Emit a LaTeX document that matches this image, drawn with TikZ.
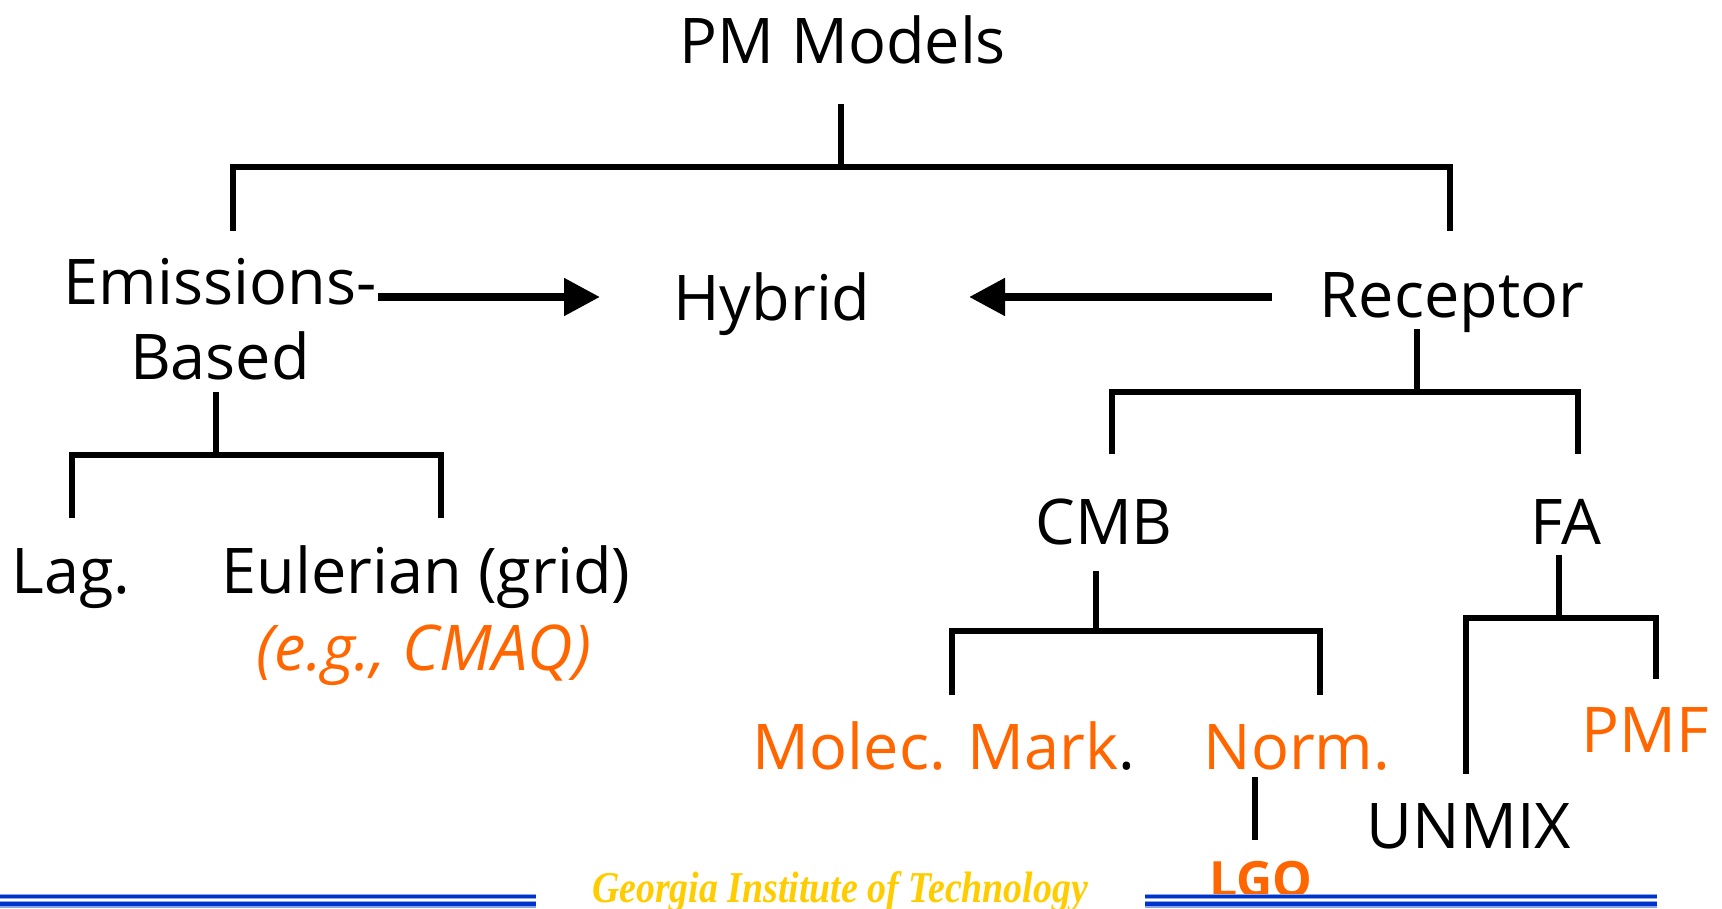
\documentclass[tikz,border=0pt]{standalone}
\usepackage{fontspec}
\setmainfont{Open Sans}
\newfontfamily\gtfont{Liberation Serif}
\usetikzlibrary{arrows.meta}
\definecolor{orng}{RGB}{255,102,0}
\definecolor{gold}{RGB}{255,204,0}
\definecolor{gtblue}{RGB}{0,51,204}
\definecolor{gtlight}{RGB}{140,165,230}
\tikzset{
  lbl/.style={anchor=base, inner sep=0pt, font=\fontsize{63}{75}\selectfont},
  olbl/.style={lbl, text=orng},
  tree/.style={line width=6pt, line join=miter, line cap=butt},
  arr/.style={line width=8pt, -{Triangle[length=36pt,width=36pt]}},
}
\begin{document}
\begin{tikzpicture}[x=1pt,y=-1pt]
\useasboundingbox (0,0) rectangle (1722,909);
% labels
\node[lbl] (pm) at (843,64) {PM Models};
\node[lbl] (emis1) at (220,305) {Emissions-};
\node[lbl] (emis2) at (220,379) {Based};
\node[lbl] (hyb) at (772,321) {Hybrid};
\node[lbl] (rec) at (1452,318) {Receptor};
\node[lbl] (lag) at (71,593) {Lag.};
\node[lbl] (eul) at (426,593) {Eulerian (grid)};
\node[olbl, font=\fontsize{63}{75}\selectfont\itshape] (eg) at (424,670) {(e.g., CMAQ)};
\node[lbl] (cmb) at (1104,544) {CMB};
\node[lbl] (fa) at (1566,544) {FA};
\node[olbl] (mol) at (944,769) {Molec. Mark\textcolor{black}{.}};
\node[olbl] (norm) at (1297,769) {Norm.};
\node[olbl] (pmf) at (1645,752) {PMF};
\node[lbl] (unmix) at (1469,848) {UNMIX};
\node[olbl, font=\fontsize{50}{54}\selectfont\bfseries] (lgo) at (1261,897) {LGO};
% tree junctions
\coordinate (pmJ) at (841,104);
\coordinate (emJ) at (216,392);
\coordinate (recJ) at (1417,329);
\coordinate (cmbJ) at (1096,571);
\coordinate (faJ) at (1559,555);
\coordinate (normJ) at (1255,777);
\coordinate (lgoJ) at (1255,840);
% top bracket
\draw[tree] (pmJ) -- (841,167);
\draw[tree] (233,231) -- (233,167) -- (1450,167) -- (1450,231);
% emissions bracket
\draw[tree] (emJ) -- (216,455);
\draw[tree] (72,518) -- (72,455) -- (441,455) -- (441,518);
% receptor bracket
\draw[tree] (recJ) -- (1417,392);
\draw[tree] (1112,454) -- (1112,392) -- (1578,392) -- (1578,454);
% CMB bracket
\draw[tree] (cmbJ) -- (1096,631);
\draw[tree] (952,695) -- (952,631) -- (1320,631) -- (1320,695);
% Norm -> LGO
\draw[tree] (normJ) -- (lgoJ);
% FA bracket
\draw[tree] (faJ) -- (1559,618);
\draw[tree] (1466,774) -- (1466,618) -- (1656,618) -- (1656,679);
% arrows
\coordinate (a1s) at (378,297);
\coordinate (a1e) at (600,297);
\coordinate (a2s) at (1272,297);
\coordinate (a2e) at (969,297);
\draw[arr] (a1s) -- (a1e);
\draw[arr] (a2s) -- (a2e);
% footer
\foreach \xa/\xb in {0/536, 1145/1657}{
  \fill[gtlight] (\xa,894) rectangle (\xb,907.5);
  \fill[gtblue] (\xa,895.2) rectangle (\xb,898.2);
  \fill[white] (\xa,899.2) rectangle (\xb,900.6);
  \fill[gtblue] (\xa,901.6) rectangle (\xb,906.4);
}
\node[anchor=base, inner sep=0pt, text=gold] (gt) at (840,902)
  {\scalebox{0.86}[1]{\gtfont\fontsize{44}{46}\selectfont\bfseries\itshape Georgia Institute of Technology}};
\end{tikzpicture}
\end{document}
